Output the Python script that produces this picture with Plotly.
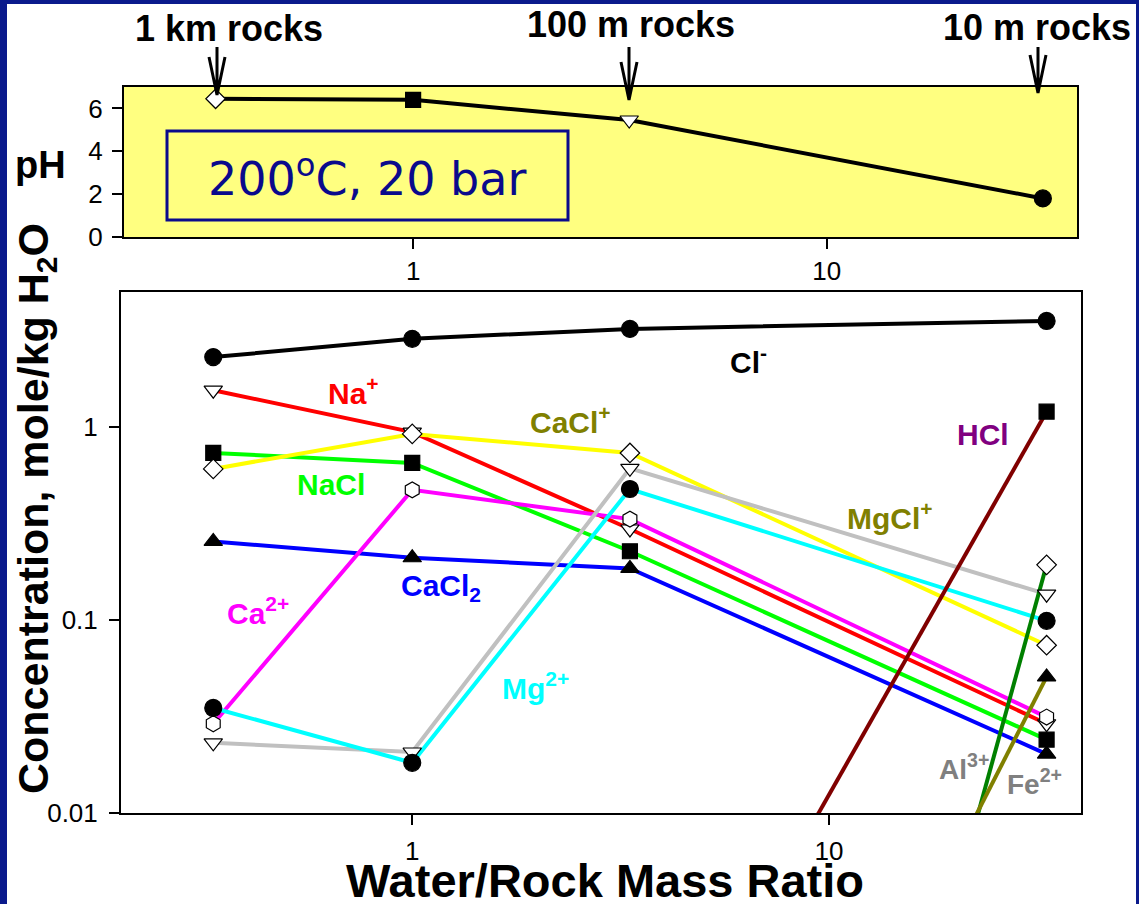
import math
import plotly.graph_objects as go

W, H = 1139, 904
FONT = "Liberation Sans, Arial, sans-serif"
NAVY = "#0a1a8c"


def px(x):
    return x / W


def py(y):
    return 1 - y / H


# ---- data ----
water_rock = [0.333, 1.0, 3.33, 33.3]

ph_values = [6.45, 6.40, 5.46, 1.8]
ph_symbols = ["diamond", "square", "triangle-down", "circle"]
ph_fills = ["white", "black", "white", "black"]
ph_sizes = [15, 15, 16, 17]

cl_minus = [2.3, 2.86, 3.22, 3.54]
na_plus = [1.55, 0.94, 0.296, 0.029]
nacl = [0.733, 0.651, 0.227, 0.024]
cacl_plus = [0.606, 0.92, 0.733, 0.074]
cacl2 = [0.255, 0.21, 0.185, 0.0202]
ca_2plus = [0.029, 0.472, 0.333, 0.0314]
mg_2plus = [0.035, 0.0182, 0.477, 0.099]
mgcl_plus = [0.0231, 0.0207, 0.61, 0.136]
hcl = [None, None, 1.9e-4, 1.2]
al_3plus = [None, None, 2.8e-9, 0.193]
fe_2plus = [None, None, 3.0e-6, 0.0507]

# name, values, line colour, marker symbol, marker fill
series = [
    ("Cl-", cl_minus, "#000000", "circle", "black"),
    ("Na+", na_plus, "#ff0000", "triangle-down", "white"),
    ("NaCl", nacl, "#00ff00", "square", "black"),
    ("CaCl+", cacl_plus, "#ffff00", "diamond", "white"),
    ("CaCl2", cacl2, "#0000ff", "triangle-up", "black"),
    ("Ca2+", ca_2plus, "#ff00ff", "hexagon", "white"),
    ("MgCl+", mgcl_plus, "#c0c0c0", "triangle-down", "white"),
    ("Mg2+", mg_2plus, "#00ffff", "circle", "black"),
    ("HCl", hcl, "#800000", "square", "black"),
    ("Al3+", al_3plus, "#008000", "diamond", "white"),
    ("Fe2+", fe_2plus, "#808000", "triangle-up", "black"),
]

marker_sizes = {"circle": 17, "square": 15, "diamond": 15,
                "triangle-up": 16, "triangle-down": 16, "hexagon": 16}

# species labels: text, colour, centre (px), font size
labels = [
    ("Cl<sup>-</sup>", "#000000", (748, 360), 30),
    ("Na<sup>+</sup>", "#ff0000", (353, 391), 30),
    ("NaCl", "#00ff00", (331, 484), 30),
    ("CaCl<sup>+</sup>", "#808000", (570, 420), 30),
    ("CaCl<sub>2</sub>", "#0000ff", (441, 587), 30),
    ("Ca<sup>2+</sup>", "#ff00ff", (258, 611), 30),
    ("Mg<sup>2+</sup>", "#00ffff", (535, 686), 30),
    ("HCl", "#800080", (983, 435), 30),
    ("MgCl<sup>+</sup>", "#808000", (890, 516), 30),
    ("Al<sup>3+</sup>", "#808080", (964, 767), 28),
    ("Fe<sup>2+</sup>", "#808080", (1034, 782), 28),
]

# rock size markers above the pH panel: text, text centre x, arrow x, text centre y, arrow tip y
rock_marks = [
    ("1 km rocks", 229, 217, 28, 95),
    ("100 m rocks", 631, 629, 24, 100),
    ("10 m rocks", 1037, 1038, 27, 93),
]

fig = go.Figure()

# pH panel
fig.add_trace(go.Scatter(
    x=water_rock, y=ph_values, mode="lines", xaxis="x", yaxis="y",
    line=dict(color="black", width=4), hoverinfo="skip",
))
fig.add_trace(go.Scatter(
    x=water_rock, y=ph_values, mode="markers", xaxis="x", yaxis="y",
    marker=dict(symbol=ph_symbols, color=ph_fills, size=ph_sizes, opacity=1,
                line=dict(color="black", width=1.2)),
    hoverinfo="skip",
))

# concentration panel: all lines first, markers on top
for name, vals, color, sym, fill in series:
    fig.add_trace(go.Scatter(
        x=water_rock, y=vals, mode="lines", xaxis="x2", yaxis="y2",
        line=dict(color=color, width=4), name=name, hoverinfo="skip",
    ))
for name, vals, color, sym, fill in series:
    fig.add_trace(go.Scatter(
        x=water_rock, y=vals, mode="markers", xaxis="x2", yaxis="y2",
        marker=dict(symbol=sym, color=fill, size=marker_sizes[sym], opacity=1,
                    line=dict(color="black", width=1.2)),
        name=name, hoverinfo="skip", cliponaxis=True,
    ))

axis_common = dict(
    showline=True, linewidth=2, linecolor="black", mirror=True,
    ticks="outside", ticklen=10, tickwidth=2, tickcolor="black",
    showgrid=False, zeroline=False,
    tickfont=dict(family=FONT, size=26, color="black"),
)

x_range = [math.log10(0.2), 1.605]

annotations = []
for text, color, (cx, cy), size in labels:
    annotations.append(dict(
        text=text, x=px(cx), y=py(cy), xref="paper", yref="paper",
        xanchor="center", yanchor="middle", showarrow=False,
        font=dict(family=FONT, size=size, color=color, weight="bold"),
    ))

for text, tx, ax_x, ty, tip in rock_marks:
    annotations.append(dict(
        text=text, x=px(tx), y=py(ty),
        xref="paper", yref="paper", xanchor="center", yanchor="middle",
        showarrow=False,
        font=dict(family=FONT, size=36, color="black", weight="bold"),
    ))

annotations += [
    dict(text="200<sup>o</sup>C, 20 bar", x=px(367), y=py(176),
         xref="paper", yref="paper", xanchor="center", yanchor="middle",
         showarrow=False, font=dict(family="DejaVu Sans", size=46, color="#0a0a8c")),
    dict(text="pH", x=px(40), y=py(165), xref="paper", yref="paper",
         xanchor="center", yanchor="middle", showarrow=False,
         font=dict(family=FONT, size=38, color="black", weight="bold")),
    dict(text="Concentration, mole/kg H<sub>2</sub>O", x=px(36), y=py(509),
         xref="paper", yref="paper", xanchor="center", yanchor="middle",
         textangle=-90, showarrow=False,
         font=dict(family=FONT, size=43, color="black", weight="bold")),
    dict(text="Water/Rock Mass Ratio", x=px(605), y=py(880),
         xref="paper", yref="paper", xanchor="center", yanchor="middle",
         showarrow=False,
         font=dict(family=FONT, size=47, color="black", weight="bold")),
]

shapes = [
    # white page inside the navy frame
    dict(type="rect", xref="paper", yref="paper", x0=px(7), x1=px(1136),
         y0=0, y1=py(4), fillcolor="white", line=dict(width=0), layer="below"),
    # yellow background of the pH panel
    dict(type="rect", xref="x domain", yref="y domain", x0=0, x1=1, y0=0, y1=1,
         fillcolor="#ffff80", line=dict(width=0), layer="below"),
    # conditions box
    dict(type="rect", xref="paper", yref="paper", x0=px(167), x1=px(568),
         y0=py(220), y1=py(131), line=dict(color="#0a0a8c", width=3)),
]
for text, tx, ax_x, ty, tip in rock_marks:
    path = (f"M {px(ax_x)},{py(47)} L {px(ax_x)},{py(tip)} "
            f"M {px(ax_x - 8)},{py(tip - 38)} L {px(ax_x)},{py(tip)} "
            f"L {px(ax_x + 8)},{py(tip - 38)}")
    shapes.append(dict(type="path", xref="paper", yref="paper", path=path,
                       line=dict(color="black", width=3)))

fig.update_layout(
    width=W, height=H,
    margin=dict(l=0, r=0, t=0, b=0, autoexpand=False),
    paper_bgcolor=NAVY, plot_bgcolor="rgba(0,0,0,0)",
    showlegend=False, hovermode=False,
    xaxis=dict(domain=[px(124), px(1077)], type="log", range=x_range,
               anchor="y", tickvals=[1, 10], ticktext=["1", "10"],
               ticklabelstandoff=0, **axis_common),
    yaxis=dict(domain=[py(237), py(87)], range=[0, 7], anchor="x",
               tickvals=[0, 2, 4, 6], ticklabelstandoff=4, **axis_common),
    xaxis2=dict(domain=[px(121), px(1081)], type="log", range=x_range,
                anchor="y2", tickvals=[1, 10], ticktext=["1", "10"],
                ticklabelstandoff=4, **axis_common),
    yaxis2=dict(domain=[py(813), py(292)], type="log",
                range=[-2, math.log10(5)], anchor="x2",
                tickvals=[0.01, 0.1, 1], ticktext=["0.01", "0.1", "1"],
                ticklabelstandoff=6, **axis_common),
    annotations=annotations,
    shapes=shapes,
)

fig.write_html("out.html")
